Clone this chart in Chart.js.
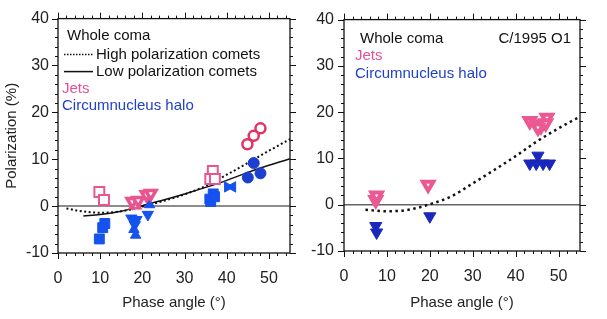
<!DOCTYPE html>
<html>
<head>
<meta charset="utf-8">
<script src="https://cdn.jsdelivr.net/npm/chart.js@4.4.0/dist/chart.umd.min.js"></script>
<style>
html, body { margin: 0; padding: 0; background: #fff; }
#wrap { position: relative; width: 607px; height: 319px; }
canvas { position: absolute; top: 0; }
#leftChart { left: 0; }
#rightChart { left: 300px; }
</style>
</head>
<body>
<div id="wrap">
    <canvas id="leftChart" width="300" height="319"></canvas>
    <canvas id="rightChart" width="307" height="319"></canvas>
</div>
<script>
// ---- left panel: whole coma curves ----
const highX = [2, 5, 10, 15, 20, 25, 30, 35, 40, 45, 50, 55];
const highY = [-0.5, -1.0, -1.4, -1.1, -0.1, 1.1, 2.5, 4.3, 6.7, 9.2, 11.8, 14.3];
const lowX = [6, 10, 15, 20, 25, 30, 35, 40, 45, 50, 55];
const lowY = [-2.1, -1.8, -1.1, 0.1, 1.3, 2.6, 4.0, 5.5, 7.2, 8.7, 10.1];

// left panel: jets (pink)
const jetSquareX = [9.8, 10.9, 36.7, 36.1, 37.2];
const jetSquareY = [3.0, 1.3, 7.5, 5.8, 5.8];
const jetCircleX = [44.9, 46.4, 48.0];
const jetCircleY = [13.2, 15.0, 16.6];
const jetDownX = [17.6, 19.0, 21.0, 22.0];
const jetDownY = [1.0, 1.2, 2.4, 2.7];
const jetUpX = [18.3];
const jetUpY = [0.2];

// left panel: circumnucleus halo (blue)
const haloSquareX = [9.8, 10.6, 11.1, 36.0, 36.8, 36.2, 37.1];
const haloSquareY = [-7.0, -4.6, -3.7, 1.5, 2.6, 1.0, 2.0];
const haloDownX = [17.4, 18.6, 18.2, 21.3];
const haloDownY = [-2.6, -2.9, -4.0, -1.8];
const haloUpX = [18.0, 18.4, 21.7];
const haloUpY = [-5.0, -6.2, 0.3];
const haloRightX = [40.2];
const haloRightY = [4.1];
const haloLeftX = [41.4];
const haloLeftY = [4.1];
const haloCircleX = [45.0, 46.4, 48.0];
const haloCircleY = [6.1, 9.2, 7.0];

// ---- right panel: C/1995 O1 ----
const c1995X = [5, 10, 15, 20, 25, 30, 35, 40, 45, 50, 54.5];
const c1995Y = [-1.1, -1.4, -1.1, 0.1, 1.8, 4.6, 7.5, 10.5, 13.7, 16.5, 18.8];
const hbJetX = [7.4, 7.6, 19.6, 43.3, 44.8, 45.9, 47.3, 47.0, 45.2];
const hbJetY = [1.0, 2.0, 4.3, 18.1, 17.4, 17.0, 18.8, 17.6, 16.7];
const hbHaloX = [7.4, 7.6, 20.0, 45.2, 43.3, 44.8, 46.4, 47.9];
const hbHaloY = [-4.6, -6.0, -2.5, 10.6, 8.9, 8.9, 8.9, 8.9];

// axes
const X_MIN = 0, X_MAX = 55;
const Y_MIN = -10, Y_MAX = 40;
const zeroX = [0, 55];
const zeroY = [0, 0];

const FONT = "'Liberation Sans', Arial, Helvetica, sans-serif";
const PINK = "#e9558e";
const PINK_CIRCLE = "#e13463";
const BLUE = "#1552ee";
const BLUE_CIRCLE = "#1c3fd0";
const BLUE_DARK = "#1a27bd";

Chart.defaults.font.family = FONT;
Chart.defaults.color = "#222";

function pts(xs, ys){
    return xs.map((x, i) => ({x: x, y: ys[i]}));
}

function markers(xs, ys, style, r, fill, stroke, bw, rot){
    return {
        data: pts(xs, ys),
        showLine: false,
        pointStyle: style,
        pointRadius: r,
        pointRotation: rot || 0,
        pointBackgroundColor: fill,
        pointBorderColor: stroke,
        pointBorderWidth: bw
    };
}

function curve(xs, ys, color, width, dash){
    return {
        type: "line",
        data: pts(xs, ys),
        showLine: true,
        borderColor: color,
        borderWidth: width,
        borderDash: dash || [],
        pointRadius: 0,
        fill: false,
        cubicInterpolationMode: "monotone"
    };
}

// frame with outward ticks on all four sides + panel texts
const framePlugin = {
    id: "frame",
    afterDraw(chart, args, opts){
        const ctx = chart.ctx;
        const a = chart.chartArea;
        const xs = chart.scales.x;
        const ys = chart.scales.y;
        ctx.save();
        ctx.strokeStyle = "#111";
        ctx.lineWidth = 1.3;
        ctx.strokeRect(a.left, a.top, a.right - a.left, a.bottom - a.top);

        ctx.lineWidth = 1;
        ctx.beginPath();
        for(let v = X_MIN; v < X_MAX; v += 2){
            const len = v % 10 === 0 ? 6 : 3;
            const px = Math.round(xs.getPixelForValue(v)) + 0.5;
            ctx.moveTo(px, a.bottom); ctx.lineTo(px, a.bottom + len);
            ctx.moveTo(px, a.top); ctx.lineTo(px, a.top - len);
        }
        for(let v = Y_MIN; v <= Y_MAX; v += 2){
            const len = v % 10 === 0 ? 6 : 3;
            const py = Math.round(ys.getPixelForValue(v)) + 0.5;
            ctx.moveTo(a.left, py); ctx.lineTo(a.left - len, py);
            ctx.moveTo(a.right, py); ctx.lineTo(a.right + len, py);
        }
        ctx.stroke();

        ctx.font = "15px " + FONT;
        ctx.textBaseline = "middle";
        (opts.texts || []).forEach(t => {
            ctx.fillStyle = t.color || "#111";
            ctx.textAlign = t.align || "left";
            ctx.fillText(t.text, a.left + t.dx, a.top + t.dy);
        });
        (opts.samples || []).forEach(s => {
            ctx.strokeStyle = "#111";
            ctx.lineWidth = s.width;
            ctx.setLineDash(s.dash);
            ctx.beginPath();
            ctx.moveTo(a.left + s.dx, a.top + s.dy);
            ctx.lineTo(a.left + s.dx + 29, a.top + s.dy);
            ctx.stroke();
        });
        ctx.restore();
    }
};

function axes(yWidth, xHeight, yPad, showYTitle){
    return {
        x: {
            type: "linear",
            min: X_MIN, max: X_MAX,
            grid: {display: false, drawTicks: false},
            border: {display: false},
            ticks: {stepSize: 10, includeBounds: false, padding: 16, font: {size: 16}, color: "#222"},
            title: {display: true, text: "Phase angle (°)", font: {size: 15}, color: "#222", padding: 0},
            afterFit(s){ s.height = xHeight; }
        },
        y: {
            type: "linear",
            min: Y_MIN, max: Y_MAX,
            grid: {display: false, drawTicks: false},
            border: {display: false},
            ticks: {stepSize: 10, includeBounds: false, padding: yPad, font: {size: 16}, color: "#222"},
            title: {display: showYTitle, text: "Polarization (%)", font: {size: 15}, color: "#222", padding: 0},
            afterFit(s){ s.width = yWidth; }
        }
    };
}

new Chart(document.getElementById("leftChart"), {
    type: "scatter",
    data: {
        datasets: [
            markers(jetCircleX, jetCircleY, "circle", 5, "#fff", PINK_CIRCLE, 2.5),
            markers(haloCircleX, haloCircleY, "circle", 5.5, BLUE_CIRCLE, BLUE_CIRCLE, 1),
            markers(haloRightX, haloRightY, "triangle", 6, BLUE, BLUE, 1, 90),
            markers(haloLeftX, haloLeftY, "triangle", 6, BLUE, BLUE, 1, 270),
            markers(jetSquareX, jetSquareY, "rect", 7, "#fff", PINK, 2),
            markers(jetDownX, jetDownY, "triangle", 6, "#fff", PINK, 3.5, 180),
            markers(jetUpX, jetUpY, "triangle", 6, "#fff", PINK, 2.5),
            markers(haloSquareX, haloSquareY, "rect", 7, BLUE, BLUE, 1),
            markers(haloDownX, haloDownY, "triangle", 6.5, BLUE, BLUE, 1, 180),
            markers(haloUpX, haloUpY, "triangle", 6, BLUE, BLUE, 1),
            curve(highX, highY, "#111", 2, [2, 2.5]),
            curve(lowX, lowY, "#111", 1.5),
            curve(zeroX, zeroY, "#666", 1.5)
        ]
    },
    options: {
        responsive: false,
        animation: false,
        layout: {padding: {left: 3, right: 10, top: 16, bottom: 7}},
        scales: axes(55, 59, 9, true),
        plugins: {
            legend: {display: false},
            tooltip: {enabled: false},
            frame: {
                texts: [
                    {text: "Whole coma", dx: 9, dy: 17},
                    {text: "High polarization comets", dx: 38, dy: 36},
                    {text: "Low polarization comets", dx: 38, dy: 53},
                    {text: "Jets", dx: 4, dy: 70, color: "#e6509a"},
                    {text: "Circumnucleus halo", dx: 4, dy: 87, color: "#2040c8"}
                ],
                samples: [
                    {dx: 6, dy: 36, width: 1.5, dash: [1.5, 1.5]},
                    {dx: 6, dy: 53, width: 1.5, dash: []}
                ]
            }
        }
    },
    plugins: [framePlugin]
});

new Chart(document.getElementById("rightChart"), {
    type: "scatter",
    data: {
        datasets: [
            markers(hbJetX, hbJetY, "triangle", 6, "#fff", "#ec5892", 4, 180),
            markers(hbHaloX, hbHaloY, "triangle", 7, BLUE_DARK, BLUE_DARK, 1, 180),
            curve(c1995X, c1995Y, "#111", 2.5, [2.5, 3.5]),
            curve(zeroX, zeroY, "#666", 1.5)
        ]
    },
    options: {
        responsive: false,
        animation: false,
        layout: {padding: {left: 0, right: 27, top: 16, bottom: 7}},
        scales: axes(44, 61, 10, false),
        plugins: {
            legend: {display: false},
            tooltip: {enabled: false},
            frame: {
                texts: [
                    {text: "Whole coma", dx: 16, dy: 19},
                    {text: "C/1995 O1", dx: 227, dy: 19, align: "right"},
                    {text: "Jets", dx: 11, dy: 36, color: "#e6509a"},
                    {text: "Circumnucleus halo", dx: 11, dy: 54, color: "#2040c8"}
                ]
            }
        }
    },
    plugins: [framePlugin]
});
</script>
</body>
</html>
